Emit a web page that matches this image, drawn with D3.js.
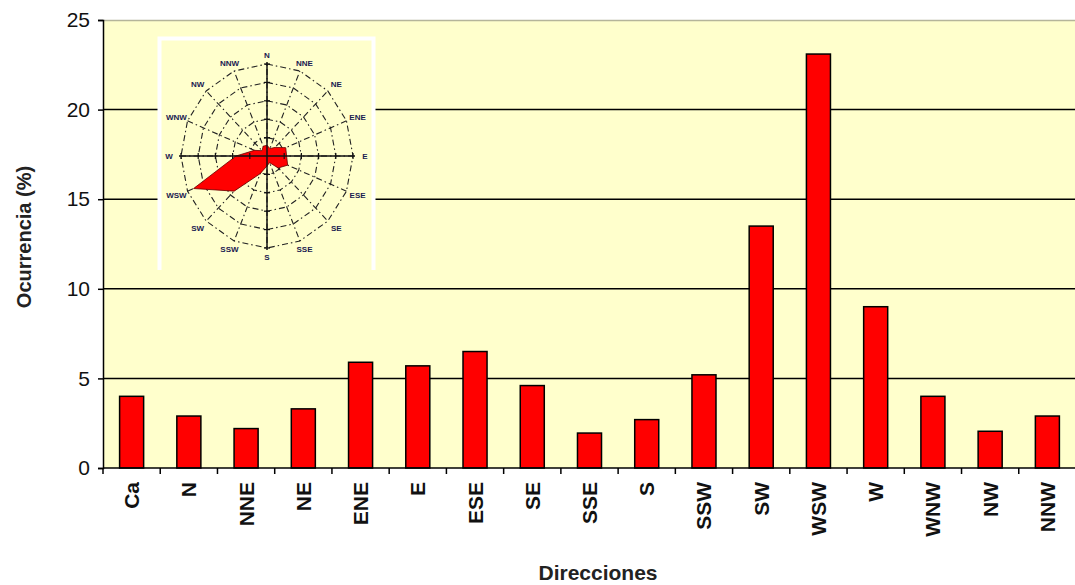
<!DOCTYPE html>
<html>
<head>
<meta charset="utf-8">
<script src="https://cdnjs.cloudflare.com/ajax/libs/d3/7.8.5/d3.min.js"></script>
<style>
  body { margin: 0; background: #fff; }
  text { font-family: "Liberation Sans", Arial, sans-serif; }
</style>
</head>
<body>
<div id="chart"></div>
<script>
var svgWidth = 1075;
var svgHeight = 585;

// bar chart data
var directions = ["Ca", "N", "NNE", "NE", "ENE", "E", "ESE", "SE", "SSE", "S", "SSW", "SW", "WSW", "W", "WNW", "NW", "NNW"];
var occurrence = [4.0, 2.9, 2.2, 3.3, 5.9, 5.7, 6.5, 4.6, 1.95, 2.7, 5.2, 13.5, 23.1, 9.0, 4.0, 2.05, 2.9];
var yTicks = [0, 5, 10, 15, 20, 25];

// rose inset data (same directions, without calms)
var roseDirections = ["N", "NNE", "NE", "ENE", "E", "ESE", "SE", "SSE", "S", "SSW", "SW", "WSW", "W", "WNW", "NW", "NNW"];
var roseValues = [2.9, 2.2, 3.3, 5.9, 5.7, 6.5, 4.6, 1.95, 2.7, 5.2, 13.5, 23.1, 9.0, 4.0, 2.05, 2.9];
var roseRings = [5, 10, 15, 20, 25];

var margin = { top: 20, right: 0, bottom: 117, left: 103 };
var chartWidth = 973;
var chartHeight = svgHeight - margin.top - margin.bottom;

var svg = d3.select("#chart")
    .append("svg")
    .attr("width", svgWidth)
    .attr("height", svgHeight);

var chartGroup = svg.append("g")
    .attr("transform", `translate(${margin.left}, ${margin.top})`);

var xScale = d3.scaleBand()
    .domain(directions)
    .range([0, chartWidth])
    .paddingInner(0.58)
    .paddingOuter(0.29);

var yScale = d3.scaleLinear()
    .domain([0, 25])
    .range([chartHeight, 0]);

// plot background
chartGroup.append("rect")
    .attr("width", chartWidth + 10)
    .attr("height", chartHeight)
    .attr("fill", "#ffffcc");

chartGroup.append("line")
    .attr("x1", 0).attr("x2", chartWidth + 10)
    .attr("y1", 0.5).attr("y2", 0.5)
    .attr("stroke", "#b5b59a")
    .attr("stroke-width", 1.5);

// gridlines
chartGroup.append("g")
    .selectAll("line")
    .data(yTicks.filter(d => d > 0 && d < 25))
    .enter()
    .append("line")
    .attr("x1", 0)
    .attr("x2", chartWidth + 10)
    .attr("y1", d => yScale(d))
    .attr("y2", d => yScale(d))
    .attr("stroke", "#000")
    .attr("stroke-width", 1.5);

// bars
chartGroup.append("g")
    .selectAll("rect")
    .data(occurrence)
    .enter()
    .append("rect")
    .attr("x", (d, i) => xScale(directions[i]))
    .attr("y", d => yScale(d))
    .attr("width", xScale.bandwidth())
    .attr("height", d => chartHeight - yScale(d))
    .attr("fill", "#ff0000")
    .attr("stroke", "#000")
    .attr("stroke-width", 1.5);

// y axis
var leftAxis = d3.axisLeft(yScale)
    .tickValues(yTicks)
    .tickSize(5)
    .tickPadding(8);

var yAxisGroup = chartGroup.append("g").call(leftAxis);
yAxisGroup.select(".domain").attr("stroke", "#000").attr("stroke-width", 1.5);
yAxisGroup.selectAll(".tick line").attr("stroke", "#000").attr("stroke-width", 1.5);
yAxisGroup.selectAll("text")
    .attr("font-size", "21px")
    .attr("font-family", "Liberation Sans, Arial, sans-serif")
    .attr("fill", "#111");

// x axis: ticks between categories
var xAxisGroup = chartGroup.append("g")
    .attr("transform", `translate(0, ${chartHeight})`);

xAxisGroup.append("line")
    .attr("x1", 0).attr("x2", chartWidth + 10)
    .attr("y1", 0).attr("y2", 0)
    .attr("stroke", "#000")
    .attr("stroke-width", 1.5);

xAxisGroup.selectAll(".sep")
    .data(directions)
    .enter()
    .append("line")
    .attr("class", "sep")
    .attr("x1", d => xScale(d) - xScale.step() * xScale.paddingInner() / 2)
    .attr("x2", d => xScale(d) - xScale.step() * xScale.paddingInner() / 2)
    .attr("y1", 0)
    .attr("y2", 6)
    .attr("stroke", "#000")
    .attr("stroke-width", 1.5);

xAxisGroup.selectAll(".lbl")
    .data(directions)
    .enter()
    .append("text")
    .attr("class", "lbl")
    .attr("transform", d => `translate(${xScale(d) + xScale.bandwidth() / 2 + 7.5}, 14) rotate(-90)`)
    .attr("text-anchor", "end")
    .attr("font-size", "21px")
    .attr("font-weight", "bold")
    .attr("fill", "#111")
    .text(d => d);

// axis titles
svg.append("text")
    .attr("transform", "translate(31, 237) rotate(-90)")
    .attr("text-anchor", "middle")
    .attr("font-size", "20px")
    .attr("font-weight", "bold")
    .attr("fill", "#222")
    .text("Ocurrencia (%)");

svg.append("text")
    .attr("x", 598)
    .attr("y", 580)
    .attr("text-anchor", "middle")
    .attr("font-size", "21px")
    .attr("font-weight", "bold")
    .attr("fill", "#222")
    .text("Direcciones");

// ---- wind rose inset ----
var inset = svg.append("g");

inset.append("rect")
    .attr("x", 158)
    .attr("y", 37)
    .attr("width", 217)
    .attr("height", 233)
    .attr("fill", "#ffffcc");

inset.append("path")
    .attr("d", "M159.5,270 V38.5 H373.5 V270")
    .attr("fill", "none")
    .attr("stroke", "#fff")
    .attr("stroke-width", 4);

var cx = 267, cy = 156;
var rx = d3.scaleLinear().domain([0, 25]).range([0, 86]);
var ry = d3.scaleLinear().domain([0, 25]).range([0, 92]);
var angle = d3.scalePoint().domain(roseDirections).range([0, 2 * Math.PI * 15 / 16]);

function px(dir, v) { return cx + rx(v) * Math.sin(angle(dir)); }
function py(dir, v) { return cy - ry(v) * Math.cos(angle(dir)); }

// rings
inset.append("g")
    .selectAll("path")
    .data(roseRings)
    .enter()
    .append("path")
    .attr("d", v => d3.line()(roseDirections.map(dir => [px(dir, v), py(dir, v)])) + "Z")
    .attr("fill", "none")
    .attr("stroke", "#222")
    .attr("stroke-width", 1.1)
    .attr("stroke-dasharray", "6,3,1.5,3");

// spokes
inset.append("g")
    .selectAll("line")
    .data(roseDirections)
    .enter()
    .append("line")
    .attr("x1", cx)
    .attr("y1", cy)
    .attr("x2", d => px(d, 25))
    .attr("y2", d => py(d, 25))
    .attr("stroke", "#222")
    .attr("stroke-width", 1.1)
    .attr("stroke-dasharray", "6,3,1.5,3");

// data polygon
inset.append("path")
    .attr("d", d3.line()(roseDirections.map((dir, i) => [px(dir, roseValues[i]), py(dir, roseValues[i])])) + "Z")
    .attr("fill", "#ff0000")
    .attr("stroke", "#600")
    .attr("stroke-width", 0.8);

// main cross
inset.append("line")
    .attr("x1", cx).attr("x2", cx)
    .attr("y1", cy - ry(25) - 2).attr("y2", cy + ry(25) + 2)
    .attr("stroke", "#111").attr("stroke-width", 1.5);
inset.append("line")
    .attr("x1", cx - rx(25) - 2).attr("x2", cx + rx(25) + 2)
    .attr("y1", cy).attr("y2", cy)
    .attr("stroke", "#111").attr("stroke-width", 1.5);

// small ticks on the cross
inset.append("g")
    .selectAll("line")
    .data(roseRings)
    .enter()
    .append("line")
    .attr("x1", v => cx + rx(v)).attr("x2", v => cx + rx(v))
    .attr("y1", cy - 3).attr("y2", cy + 3)
    .attr("stroke", "#111").attr("stroke-width", 1.2);

inset.append("g")
    .selectAll("line")
    .data(roseRings)
    .enter()
    .append("line")
    .attr("x1", v => cx - rx(v)).attr("x2", v => cx - rx(v))
    .attr("y1", cy - 3).attr("y2", cy + 3)
    .attr("stroke", "#111").attr("stroke-width", 1.2);

inset.append("g")
    .selectAll("line")
    .data(roseRings)
    .enter()
    .append("line")
    .attr("x1", cx - 3).attr("x2", cx + 3)
    .attr("y1", v => cy + ry(v)).attr("y2", v => cy + ry(v))
    .attr("stroke", "#111").attr("stroke-width", 1.2);

inset.append("g")
    .selectAll("line")
    .data(roseRings)
    .enter()
    .append("line")
    .attr("x1", cx - 3).attr("x2", cx + 3)
    .attr("y1", v => cy - ry(v)).attr("y2", v => cy - ry(v))
    .attr("stroke", "#111").attr("stroke-width", 1.2);

// direction labels
inset.append("g")
    .selectAll("text")
    .data(roseDirections)
    .enter()
    .append("text")
    .attr("x", d => px(d, 28.5))
    .attr("y", d => py(d, 27.5) + 3)
    .attr("text-anchor", "middle")
    .attr("font-size", "8px")
    .attr("font-weight", "bold")
    .attr("fill", "#1a2050")
    .text(d => d);
</script>
</body>
</html>
